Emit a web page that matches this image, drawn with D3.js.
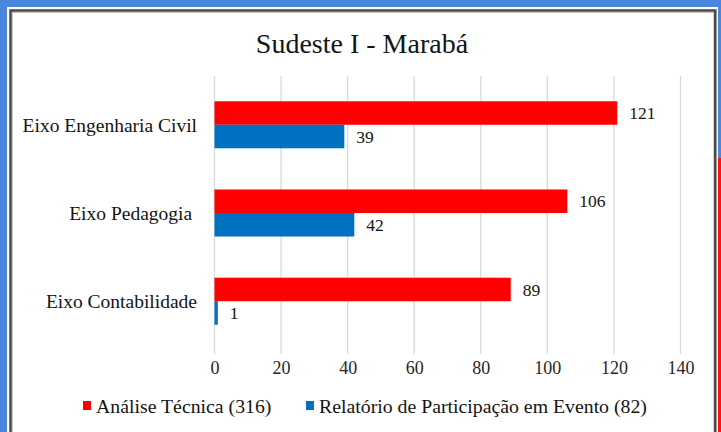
<!DOCTYPE html>
<html><head><meta charset="utf-8">
<script src="https://cdn.jsdelivr.net/npm/d3@7"></script>
<style>html,body{margin:0;padding:0;background:#4a86dc;}svg{display:block;}</style>
</head><body>
<script>
const title = "Sudeste I - Marabá";
const categories = ["Eixo Engenharia Civil", "Eixo Pedagogia ", "Eixo Contabilidade"];
const seriesNames = ["Análise Técnica (316)", "Relatório de Participação em Evento (82)"];
const analiseTecnica = [121, 106, 89];
const relatorio = [39, 42, 1];
const xTicks = [0, 20, 40, 60, 80, 100, 120, 140];
const colors = ["#ff0000", "#0070c0"];

const W = 721, H = 432;
const svg = d3.select("body").append("svg").attr("width", W).attr("height", H);
const font = "'Liberation Serif', 'Times New Roman', Times, serif";
const ink = "#141414";

svg.append("rect").attr("width", W).attr("height", H).attr("fill", "#4a86dc");
svg.append("rect").attr("x", 718).attr("y", 158).attr("width", 3).attr("height", H - 158).attr("fill", "#ff1010");
svg.append("rect").attr("x", 7).attr("y", 7).attr("width", 711).attr("height", 440).attr("fill", "#ffffff");
svg.append("rect").attr("x", 10.8).attr("y", 10.8).attr("width", 704.5).attr("height", 440)
  .attr("fill", "none").attr("stroke", "#9a9a9a").attr("stroke-width", 3.5);
svg.append("rect").attr("x", 10.5).attr("y", 10.5).attr("width", 704.5).attr("height", 440)
  .attr("fill", "none").attr("stroke", "#4a4a4a").attr("stroke-width", 2);

const x = d3.scaleLinear().domain([0, 140]).range([214.5, 680.5]);
const y = d3.scaleBand().domain(categories).range([74, 352]).paddingInner(0.467).paddingOuter(0.309);
const ys = d3.scaleBand().domain([0, 1]).range([0, y.bandwidth()]);

// gridlines
svg.append("g").selectAll("line").data(xTicks).join("line")
  .attr("x1", d => x(d)).attr("x2", d => x(d)).attr("y1", 76).attr("y2", 354)
  .attr("stroke", "#d9d9d9").attr("stroke-width", 1.3);

// title
svg.append("text").attr("x", 362).attr("y", 53).attr("text-anchor", "middle")
  .attr("font-family", font).attr("font-size", 28).attr("fill", ink).text(title);

// x axis labels
const xAxis = d3.axisBottom(x).tickValues(xTicks).tickSize(0).tickPadding(0);
const gx = svg.append("g").attr("transform", "translate(0,374)").call(xAxis)
  .attr("font-family", font).attr("font-size", 18);
gx.select(".domain").remove();
gx.selectAll("text").attr("fill", "#262626").attr("dy", 0);

// category labels
const yAxis = d3.axisLeft(y).tickSize(0).tickPadding(0);
const gy = svg.append("g").attr("transform", "translate(197,0)").call(yAxis)
  .attr("font-family", font).attr("font-size", 19.5);
gy.select(".domain").remove();
gy.selectAll("text").attr("fill", ink).attr("dy", "0.35em").style("white-space", "pre").attr("x", 0);

const series = [analiseTecnica, relatorio];
series.forEach((vals, si) => {
  const g = svg.append("g");
  g.selectAll("rect").data(vals).join("rect")
    .attr("x", x(0)).attr("y", (d, i) => y(categories[i]) + ys(si))
    .attr("width", d => Math.max(x(d) - x(0), 2.5)).attr("height", ys.bandwidth())
    .attr("fill", colors[si]);
  g.selectAll("text").data(vals).join("text")
    .attr("x", d => x(d) + 12).attr("y", (d, i) => y(categories[i]) + ys(si) + ys.bandwidth() / 2)
    .attr("dy", "0.35em").attr("font-family", font).attr("font-size", 17.5).attr("fill", ink)
    .text(d => d);
});

// legend
const legendItems = [{x: 83, tx: 96}, {x: 306, tx: 319}];
legendItems.forEach((it, i) => {
  svg.append("rect").attr("x", it.x).attr("y", 401).attr("width", 8).attr("height", 9).attr("fill", colors[i]);
  svg.append("text").attr("x", it.tx).attr("y", 406).attr("dy", "0.35em")
    .attr("font-family", font).attr("font-size", 19.8).attr("fill", ink).text(seriesNames[i]);
});
</script>
</body></html>
